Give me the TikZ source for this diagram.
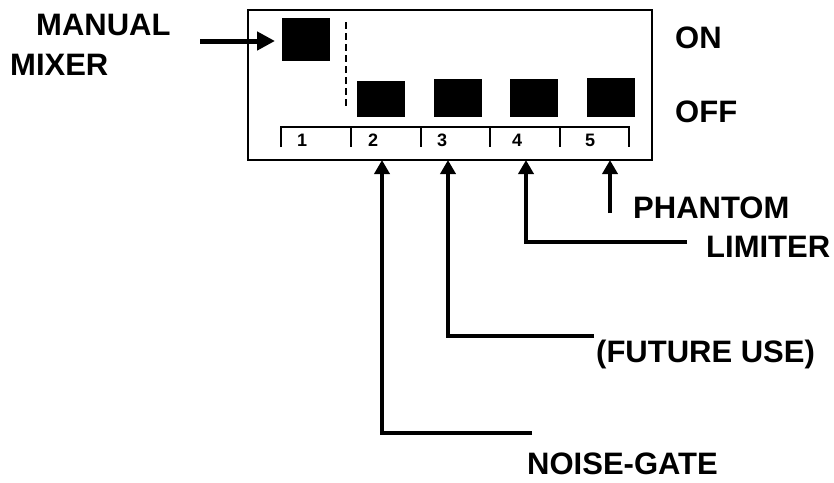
\documentclass[tikz,border=0pt]{standalone}
\usepackage{fontspec}
\setmainfont{Liberation Sans}
\usetikzlibrary{arrows.meta}
\begin{document}
\begin{tikzpicture}[x=1pt,y=-1pt,
  lbl/.style={font=\fontsize{31}{31}\selectfont\bfseries,inner sep=0pt,anchor=base west},
  num/.style={font=\fontsize{18}{18}\selectfont\bfseries,inner sep=0pt,anchor=base},
  sw/.style={fill=black,draw=none},
  ptr/.style={line width=3.5pt,-{Triangle[width=15pt,length=14pt]}},
  bigptr/.style={line width=5pt,-{Triangle[width=18pt,length=18pt]}},
  frame/.style={line width=2pt}]
\useasboundingbox (0,0) rectangle (834,482);
% case
\draw[frame] (248,10) rectangle (652,160);
% switches
\fill[sw] (282,18) rectangle (330,61);
\fill[sw] (357,81) rectangle (405,117);
\fill[sw] (434,79) rectangle (482,117);
\fill[sw] (510,79) rectangle (558,117);
\fill[sw] (587,78) rectangle (635,117);
\draw[line width=1.5pt,dash pattern=on 7pt off 4pt] (346,22) -- (346,107);
% number strip
\draw[line width=2pt] (281,147) -- (281,127) -- (629,127) -- (629,147);
\foreach \t in {351,421,490,560} \draw[line width=2pt] (\t,127) -- (\t,147);
\node[num] (n1) at (302,146) {1};
\node[num] (n2) at (373,146) {2};
\node[num] (n3) at (442,146) {3};
\node[num] (n4) at (517,146) {4};
\node[num] (n5) at (590,146) {5};
% labels
\node[lbl] (manual) at (36,35) {MANUAL};
\node[lbl] (mixer) at (10,75) {MIXER};
\node[lbl] (on) at (675,48) {ON};
\node[lbl] (off) at (675,122) {OFF};
\node[lbl] (phantom) at (633,218) {PHANTOM};
\node[lbl] (limiter) at (706,257) {LIMITER};
\node[lbl] (future) at (596,362) {(FUTURE USE)};
\node[lbl] (noise) at (527,474) {NOISE-GATE};
% connector end points
\coordinate (mS) at (200,41);
\coordinate (mT) at (275,41);
\coordinate (t2) at (382,160);
\coordinate (t3) at (448,160);
\coordinate (t4) at (526,160);
\coordinate (t5) at (610,160);
\coordinate (e2) at (532,433);
\coordinate (e3) at (594,336);
\coordinate (e4) at (687,242);
\coordinate (e5) at (610,213);
% arrows
\draw[bigptr] (mS) -- (mT);
\draw[ptr] (e2) -- (e2 -| t2) -- (t2);
\draw[ptr] (e3) -- (e3 -| t3) -- (t3);
\draw[ptr] (e4) -- (e4 -| t4) -- (t4);
\draw[ptr] (e5) -- (t5);
\end{tikzpicture}
\end{document}
